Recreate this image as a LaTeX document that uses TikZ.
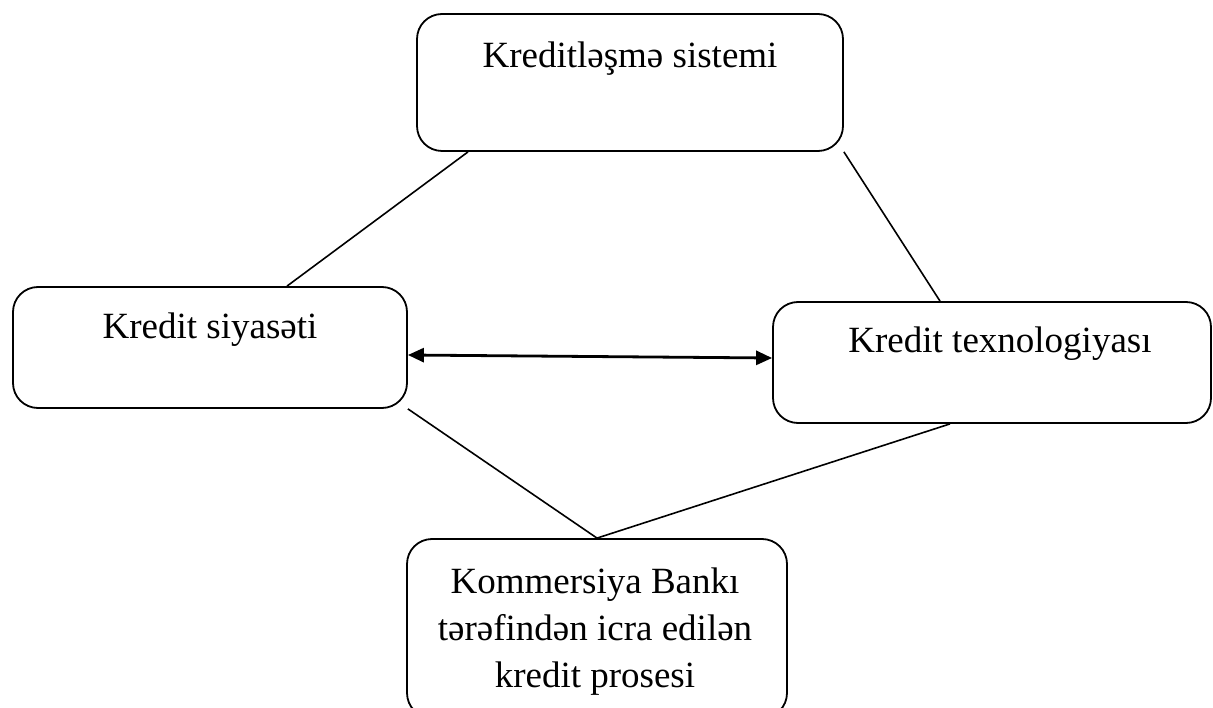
\documentclass[tikz,border=0pt]{standalone}
\usepackage{fontspec}
\setmainfont{Liberation Serif}
\usepackage{tikz}
\usetikzlibrary{positioning,arrows.meta}
\tikzset{
  box/.style={rectangle, rounded corners=25pt, draw=black, line width=1.8pt, fill=none, inner sep=0pt},
  txt/.style={font=\fontsize{37}{47}\selectfont, inner sep=0pt, align=center},
  ln/.style={draw=black, line width=1.6pt},
  dbl/.style={draw=black, line width=2.8pt, {Triangle[length=16pt,width=14pt]}-{Triangle[length=16pt,width=14pt]}},
  credmap/.style={x=1pt, y=-1pt}
}
\begin{document}
\begin{tikzpicture}[credmap]
  \useasboundingbox (0,0) rectangle (1213,708);
  \node[box, minimum width=426pt, minimum height=137pt] (ksys) at (630,82.5) {};
  \node[box, minimum width=394pt, minimum height=121pt] (kpol) at (210,347.5) {};
  \node[box, minimum width=438pt, minimum height=121pt] (ktex) at (992,362.5) {};
  \node[box, minimum width=380pt, minimum height=179pt] (kbank) at (597,628.5) {};
  \node[txt, anchor=base] (tsys) at (630,68) {Kreditləşmə sistemi};
  \node[txt, anchor=base] (tpol) at (210,339) {Kredit siyasəti};
  \node[txt, anchor=base] (ttex) at (1000,353) {Kredit texnologiyası};
  \node[txt, anchor=north] (tbank) at (595,568) {Kommersiya Bankı\\tərəfindən icra edilən\\kredit prosesi};
  \draw[ln] ([xshift=-162pt]ksys.south) -- ([xshift=77pt]kpol.north);
  \draw[ln] (ksys.south east) -- ([xshift=-52pt]ktex.north);
  \draw[ln] (kpol.south east) -- (kbank.north);
  \draw[ln] ([xshift=-42pt]ktex.south) -- (kbank.north);
  \draw[dbl] ([yshift=-7.5pt]kpol.east) -- ([yshift=4.5pt]ktex.west);
\end{tikzpicture}
\end{document}
